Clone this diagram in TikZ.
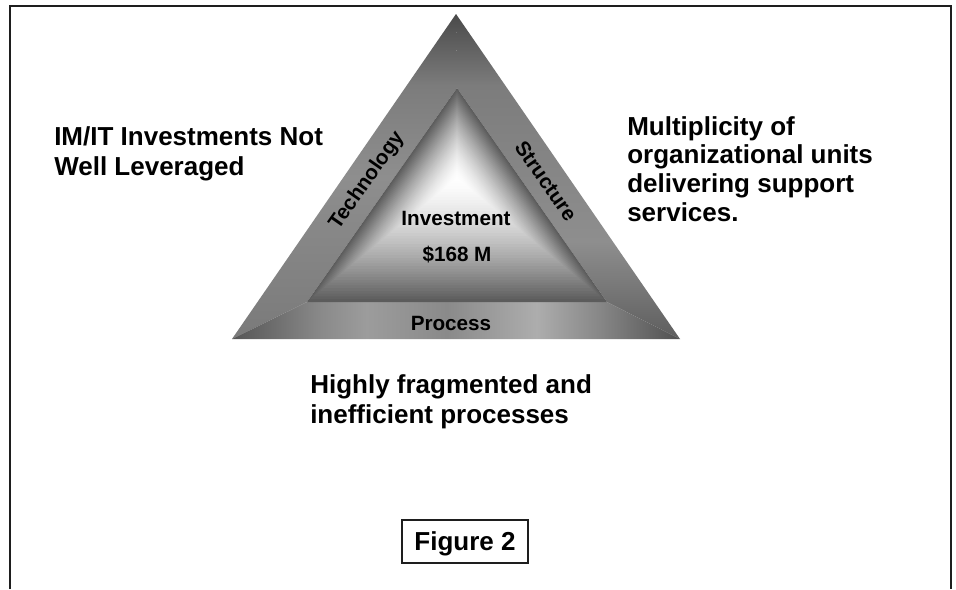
\documentclass[tikz,border=0pt]{standalone}
\usepackage{fontspec}
\setmainfont{Liberation Sans}
\usetikzlibrary{calc}

\definecolor{framegray}{HTML}{1E1E1E}
\definecolor{sbA}{HTML}{7A7A7A}
\definecolor{sbB}{HTML}{8E8E8E}
\definecolor{sbC}{HTML}{7C7C7C}
\definecolor{sbD}{HTML}{4A4A4A}
\definecolor{rbA}{HTML}{5E5E5E}
\definecolor{pbA}{HTML}{555555}
\definecolor{pbB}{HTML}{8A8A8A}
\definecolor{pbC}{HTML}{9C9C9C}
\definecolor{pbD}{HTML}{8A8A8A}
\definecolor{pbE}{HTML}{ADADAD}
\definecolor{pbF}{HTML}{878787}
\definecolor{pbG}{HTML}{505050}

% 左右两边的竖向渐变
\pgfdeclareverticalshading{techband}{100bp}{color(0bp)=(sbA); color(25bp)=(sbA);
  color(50bp)=(sbB); color(64bp)=(sbC); color(75bp)=(sbD); color(100bp)=(sbD)}
\pgfdeclareverticalshading{structband}{100bp}{color(0bp)=(rbA); color(25bp)=(rbA);
  color(40bp)=(sbB); color(64bp)=(sbC); color(75bp)=(sbD); color(100bp)=(sbD)}

% 底边的横向渐变
\pgfdeclarehorizontalshading{processband}{100bp}{color(0bp)=(pbA); color(25bp)=(pbA);
  color(35bp)=(pbB); color(40bp)=(pbC); color(49bp)=(pbD); color(59bp)=(pbE);
  color(66bp)=(pbF); color(75bp)=(pbG); color(100bp)=(pbG)}

\tikzset{
  note/.style={font=\bfseries\fontsize{19.5}{22}\selectfont, align=left,
    inner sep=0pt, anchor=base west},
  tag/.style={font=\bfseries\fontsize{15.5}{18}\selectfont, inner sep=0pt,
    anchor=base}
}

\begin{document}
\begin{tikzpicture}[x=0.75pt, y=-0.75pt]

    \useasboundingbox (0,0) rectangle (956,589);

    % 外框
    \draw[framegray, line width=1.5pt] (10,589) -- (10,6) -- (951,6) -- (951,589);

    % 三角形的顶点
    \coordinate (A)  at (456,14);
    \coordinate (BL) at (232,339);
    \coordinate (BR) at (680,339);
    \coordinate (a)  at (457,88);
    \coordinate (bl) at (307,302);
    \coordinate (br) at (607,302);
    \coordinate (C)  at (457,178);

    % 三条边
    \shade[shading=techband]   (A) -- (BL) -- (bl) -- (a) -- cycle;
    \shade[shading=structband] (A) -- (a) -- (br) -- (BR) -- cycle;
    \shade[shading=processband] (BL) -- (BR) -- (br) -- (bl) -- cycle;

    % 中间的渐变
    \foreach \i in {45,44,...,1}{
      \pgfmathsetmacro{\s}{\i/45}
      \pgfmathsetmacro{\g}{100-64*\s*sqrt(\s)}
      \fill[white!\g!black] ($(C)!\s!(a)$) -- ($(C)!\s!(bl)$) -- ($(C)!\s!(br)$) -- cycle;
    }

    % 三角形里的文字
    \node[tag, anchor=center, rotate=55]  (tech)   at (367,181) {Technology};
    \node[tag, anchor=center, rotate=-55] (struct) at (546,181) {Structure};
    \node[tag] (proc)  at (451,330) {Process};
    \node[tag] (inv)   at (456,225) {Investment};
    \node[tag] (money) at (457,261) {\$168 M};

    % 三段说明（锚点在最后一行）
    \node[note] (left)  at (54,175)  {IM/IT Investments Not\\Well Leveraged};
    \node[note, font=\bfseries\fontsize{19.5}{21.4}\selectfont] (right) at (627,221)
      {Multiplicity of\\organizational units\\delivering support\\services.};
    \node[note] (below) at (310,423) {Highly fragmented and\\inefficient processes};

    % 图号
    \node[draw=framegray, line width=1pt, minimum width=94.5pt, minimum height=32.25pt,
      text depth=0pt, font=\bfseries\fontsize{19.5}{22}\selectfont] (fig) at (465,541.5) {Figure 2};

  \end{tikzpicture}
\end{document}
